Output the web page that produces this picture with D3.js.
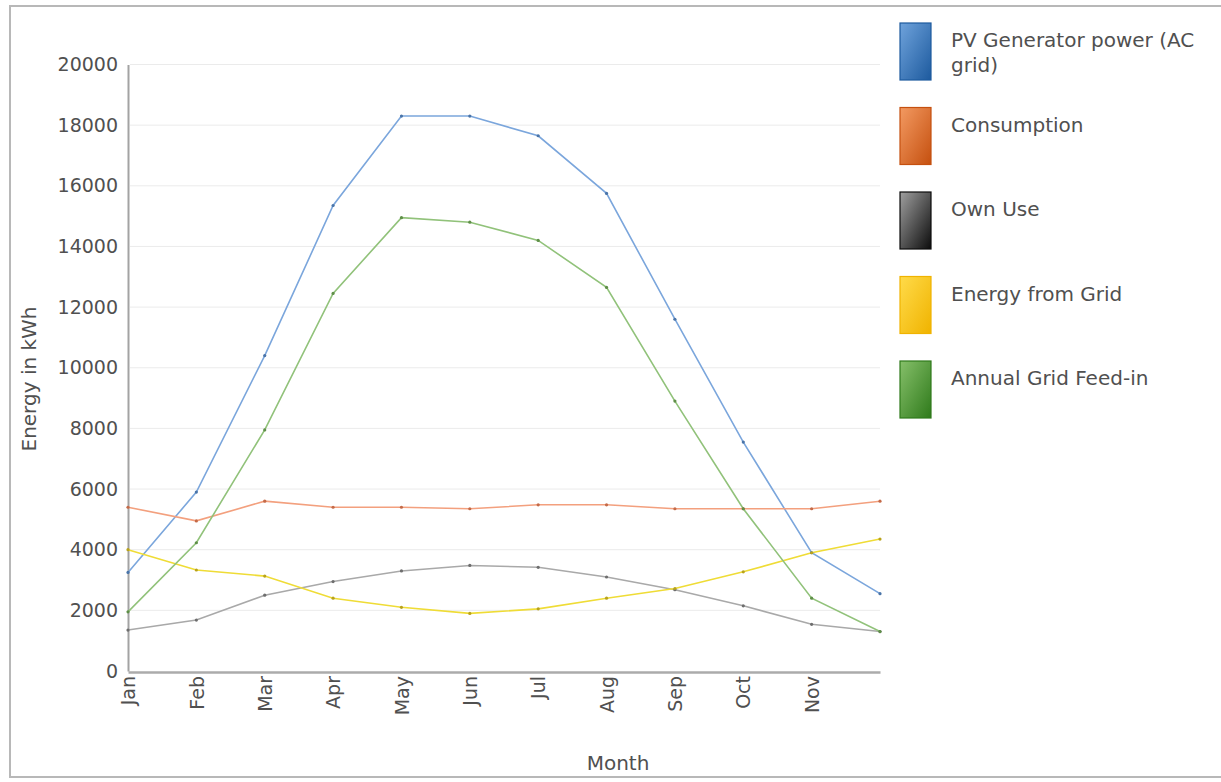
<!DOCTYPE html>
<html>
<head>
<meta charset="utf-8">
<script src="https://cdn.jsdelivr.net/npm/d3@7"></script>
<style>
  body { margin: 0; background: #fff; overflow: hidden; }
  svg { font-family: "DejaVu Sans", Verdana, sans-serif; display: block; }
</style>
</head>
<body>
<div class="chart-box"></div>
<script>
// chart data
const months = ["Jan", "Feb", "Mar", "Apr", "May", "Jun", "Jul", "Aug", "Sep", "Oct", "Nov", "Dec"];
const tickLabels = ["Jan", "Feb", "Mar", "Apr", "May", "Jun", "Jul", "Aug", "Sep", "Oct", "Nov"];
const yTicks = [0, 2000, 4000, 6000, 8000, 10000, 12000, 14000, 16000, 18000, 20000];

const pvGenerator = [3250, 5900, 10400, 15350, 18300, 18300, 17650, 15750, 11600, 7550, 3900, 2550];
const consumption = [5400, 4950, 5600, 5400, 5400, 5350, 5480, 5480, 5350, 5350, 5350, 5600];
const ownUse = [1350, 1680, 2500, 2950, 3300, 3480, 3420, 3100, 2680, 2150, 1540, 1300];
const energyFromGrid = [4000, 3330, 3130, 2400, 2100, 1900, 2050, 2400, 2720, 3270, 3900, 4350];
const gridFeedIn = [1950, 4230, 7950, 12450, 14950, 14800, 14200, 12650, 8900, 5350, 2400, 1300];

const seriesNames = ["PV Generator power (AC grid)", "Consumption", "Own Use", "Energy from Grid", "Annual Grid Feed-in"];

const drawChart = () => {
    const series = [
        { name: seriesNames[0], values: pvGenerator, line: "#7ba6dc", dot: "#4a74a8", light: "#6fa3dc", dark: "#1d5a9e" },
        { name: seriesNames[1], values: consumption, line: "#f3a07e", dot: "#c46a48", light: "#f39a62", dark: "#c5500f" },
        { name: seriesNames[2], values: ownUse, line: "#a9a9a9", dot: "#6e6e6e", light: "#a0a0a0", dark: "#0c0c0c" },
        { name: seriesNames[3], values: energyFromGrid, line: "#efdc36", dot: "#b8a21c", light: "#ffdb4a", dark: "#f0b300" },
        { name: seriesNames[4], values: gridFeedIn, line: "#91c27a", dot: "#5f8f48", light: "#86c06a", dark: "#2f7a1b" },
    ];

    const svg = d3.select(".chart-box").append("svg")
        .attr("width", 1221)
        .attr("height", 782);

    //gradients for legend swatches
    const defs = svg.append("defs");
    series.forEach((s, i) => {
        const grad = defs.append("linearGradient")
            .attr("id", "grad" + i)
            .attr("x1", "0%").attr("y1", "0%")
            .attr("x2", "100%").attr("y2", "100%");
        grad.append("stop").attr("offset", "0%").attr("stop-color", s.light);
        grad.append("stop").attr("offset", "100%").attr("stop-color", s.dark);
    });

    //outer frame (right side runs off the page)
    svg.append("rect")
        .attr("x", 10)
        .attr("y", 6)
        .attr("width", 1300)
        .attr("height", 771)
        .attr("fill", "none")
        .attr("stroke", "#b8b8b8")
        .attr("stroke-width", 2);

    //scales
    const xScale = d3.scalePoint()
        .domain(months)
        .range([128, 880]);
    const yScale = d3.scaleLinear()
        .domain([0, 20000])
        .range([671, 64.5]);

    //gridlines
    svg.append("g")
        .selectAll("line")
        .data(yTicks.slice(1))
        .enter().append("line")
        .attr("x1", 130)
        .attr("x2", 880)
        .attr("y1", (d) => { return yScale(d); })
        .attr("y2", (d) => { return yScale(d); })
        .attr("stroke", "#ebebeb")
        .attr("stroke-width", 1);

    //y-axis
    const yAxis = svg.append("g")
        .attr("transform", "translate(128,0)")
        .call(d3.axisLeft(yScale).tickValues(yTicks).tickFormat(d3.format("d")).tickSize(0).tickPadding(10));
    yAxis.select(".domain")
        .attr("stroke", "#a3a3a3")
        .attr("stroke-width", 2);
    yAxis.selectAll("text")
        .attr("font-size", "19px")
        .attr("fill", "#505050")
        .attr("font-family", "DejaVu Sans");

    //x-axis
    const xAxis = svg.append("g")
        .attr("transform", "translate(0,672)")
        .call(d3.axisBottom(xScale).tickValues(tickLabels).tickSize(0));
    xAxis.select(".domain")
        .attr("stroke", "#ababab")
        .attr("stroke-width", 2.5);
    xAxis.selectAll("text")
        .attr("font-size", "19px")
        .attr("fill", "#505050")
        .attr("font-family", "DejaVu Sans")
        .attr("transform", "translate(0,4) rotate(-90)")
        .attr("text-anchor", "end")
        .attr("x", 0)
        .attr("y", 0)
        .attr("dy", "0.35em");

    //axis titles
    svg.append("text")
        .attr("x", 618)
        .attr("y", 770)
        .attr("text-anchor", "middle")
        .attr("font-size", "20px")
        .attr("fill", "#505050")
        .text("Month");
    svg.append("text")
        .attr("transform", "translate(36,379) rotate(-90)")
        .attr("text-anchor", "middle")
        .attr("font-size", "20px")
        .attr("fill", "#505050")
        .text("Energy in kWh");

    //lines
    const line = d3.line()
        .x((d, i) => { return xScale(months[i]); })
        .y((d) => { return yScale(d); });

    const plot = svg.append("g");
    series.forEach((s) => {
        plot.append("path")
            .datum(s.values)
            .attr("d", line)
            .attr("fill", "none")
            .attr("stroke", s.line)
            .attr("stroke-width", 1.6);
    });
    series.forEach((s) => {
        plot.selectAll(null)
            .data(s.values)
            .enter().append("circle")
            .attr("cx", (d, i) => { return xScale(months[i]); })
            .attr("cy", (d) => { return yScale(d); })
            .attr("r", 1.6)
            .attr("fill", s.dot);
    });

    //legend
    const legend = svg.append("g");
    series.forEach((s, i) => {
        const top = 23 + i * 84.5;
        legend.append("rect")
            .attr("x", 900)
            .attr("y", top)
            .attr("width", 31)
            .attr("height", 57)
            .attr("fill", "url(#grad" + i + ")")
            .attr("stroke", s.dark)
            .attr("stroke-width", 1.2);
        const label = legend.append("text")
            .attr("x", 951)
            .attr("y", top + 24)
            .attr("font-size", "20px")
            .attr("fill", "#505050");
        //simple word wrap
        const words = s.name.split(" ");
        let tspan = label.append("tspan").attr("x", 951);
        let current = [];
        words.forEach((w) => {
            current.push(w);
            tspan.text(current.join(" "));
            if (tspan.node().getComputedTextLength() > 262 && current.length > 1) {
                current.pop();
                tspan.text(current.join(" "));
                current = [w];
                tspan = label.append("tspan").attr("x", 951).attr("dy", 25).text(w);
            }
        });
    });
};

drawChart();
</script>
</body>
</html>
